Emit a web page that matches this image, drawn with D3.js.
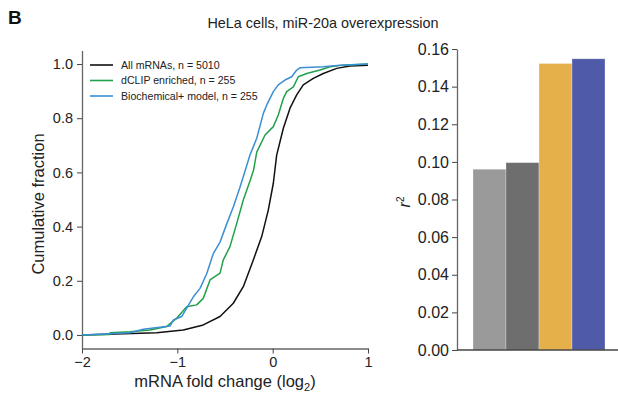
<!DOCTYPE html>
<html>
<head>
<meta charset="utf-8">
<script src="https://cdn.jsdelivr.net/npm/d3@7"></script>
<style>
  body { margin: 0; background: #fff; }
  svg { display: block; font-family: "Liberation Sans", Arial, Helvetica, sans-serif; }
</style>
</head>
<body>
<svg id="fig" width="618" height="397"></svg>
<script>
// cumulative distributions, [log2 fold change, cumulative fraction]
const allMrnas = [[-2,0],[-1.216,0.008],[-0.937,0.018],[-0.728,0.037],[-0.552,0.068],[-0.413,0.117],
  [-0.308,0.178],[-0.203,0.277],[-0.115,0.363],[-0.046,0.461],[0.007,0.56],[0.042,0.664],[0.112,0.763],
  [0.182,0.837],[0.252,0.886],[0.321,0.923],[0.426,0.947],[0.531,0.965],[0.672,0.984],[0.811,0.993],[1,0.996]];
const dclip = [[-2,0],[-1.706,0.002],[-1.706,0.008],[-1.496,0.012],[-1.287,0.018],[-1.112,0.031],[-1.007,0.062],
  [-0.902,0.104],[-0.797,0.111],[-0.728,0.135],[-0.657,0.203],[-0.552,0.228],[-0.518,0.277],[-0.448,0.326],
  [-0.377,0.412],[-0.308,0.498],[-0.238,0.568],[-0.2,0.609],[-0.167,0.675],[-0.08,0.738],[0.007,0.769],
  [0.059,0.812],[0.112,0.873],[0.147,0.898],[0.217,0.916],[0.269,0.953],[0.357,0.965],[0.497,0.978],
  [0.601,0.99],[0.741,0.996],[1,1]];
const biochem = [[-2,0],[-1.496,0.008],[-1.357,0.021],[-1.077,0.033],[-1.042,0.055],[-0.954,0.068],[-0.902,0.099],
  [-0.832,0.141],[-0.762,0.172],[-0.692,0.226],[-0.623,0.3],[-0.552,0.343],[-0.482,0.41],[-0.413,0.472],
  [-0.343,0.545],[-0.28,0.616],[-0.238,0.664],[-0.167,0.726],[-0.098,0.818],[-0.062,0.849],[0.007,0.898],
  [0.059,0.923],[0.129,0.941],[0.2,0.953],[0.252,0.978],[0.287,0.986],[0.531,0.99],[0.706,0.996],[1,1]];
const seriesNames = ["All mRNAs, n = 5010", "dCLIP enriched, n = 255", "Biochemical+ model, n = 255"];
const seriesColors = ["#111111", "#22a04b", "#3b8fd4"];
const xTicks = [-2, -1, 0, 1];
const yTicks = [0, 0.2, 0.4, 0.6, 0.8, 1.0];

// r^2 bars
const barCats = ["a", "b", "c", "d"];
const barVals = [0.0961, 0.0996, 0.1523, 0.1548];
const barColors = ["#9a9a9a", "#6d6e6d", "#e5b04a", "#4f5aa8"];
const rTicks = [0, 0.02, 0.04, 0.06, 0.08, 0.10, 0.12, 0.14, 0.16];

const font = '"Liberation Sans", Arial, Helvetica, sans-serif';
const svg = d3.select("#fig");

// panel letter + title
svg.append("text").attr("x", 8).attr("y", 24).text("B")
  .attr("font-size", 19).attr("font-weight", "bold").attr("fill", "#111");
svg.append("text").attr("x", 323).attr("y", 28).attr("text-anchor", "middle")
  .text("HeLa cells, miR-20a overexpression").attr("font-size", 14.4).attr("fill", "#222");

//---- left panel: CDF
const x = d3.scaleLinear().domain([-2, 1]).range([82, 368]);
const y = d3.scaleLinear().domain([-0.05, 1.05]).range([348.5, 50.5]);

const xAxis = svg.append("g").attr("transform", "translate(0,348.5)")
  .call(d3.axisBottom(x).tickValues(xTicks).tickSizeInner(5).tickSizeOuter(0).tickPadding(3).tickFormat(d3.format("d")));
const yAxis = svg.append("g").attr("transform", "translate(82,0)")
  .call(d3.axisLeft(y).tickValues(yTicks).tickSizeInner(5).tickSizeOuter(0).tickPadding(4).tickFormat(d3.format(".1f")));
[xAxis, yAxis].forEach(g => {
  g.select(".domain").attr("stroke", "#666").attr("stroke-width", 1.3);
  g.selectAll(".tick line").attr("stroke", "#444");
  g.selectAll("text").attr("font-family", font).attr("font-size", 14.5).attr("fill", "#222");
});

const line = d3.line().x(d => x(d[0])).y(d => y(d[1]));
[allMrnas, dclip, biochem].forEach((s, i) => {
  svg.append("path").datum(s).attr("d", line).attr("fill", "none")
    .attr("stroke", seriesColors[i]).attr("stroke-width", 1.5).attr("stroke-linejoin", "round");
});

svg.append("text").attr("transform", "translate(44,204) rotate(-90)").attr("text-anchor", "middle")
  .text("Cumulative fraction").attr("font-size", 16.5).attr("fill", "#222");
const xl = svg.append("text").attr("x", 225).attr("y", 387).attr("text-anchor", "middle")
  .attr("font-size", 16.5).attr("fill", "#222");
xl.append("tspan").text("mRNA fold change (log");
xl.append("tspan").text("2").attr("font-size", 11).attr("dy", 4);
xl.append("tspan").text(")").attr("dy", -4);

// legend
const leg = svg.append("g").attr("transform", "translate(90,65)");
seriesNames.forEach((n, i) => {
  const r = leg.append("g").attr("transform", `translate(0,${i * 15.5})`);
  r.append("line").attr("x1", 0).attr("x2", 23).attr("stroke", seriesColors[i]).attr("stroke-width", 1.6);
  r.append("text").attr("x", 31).attr("y", 3.8).text(n).attr("font-size", 10.6).attr("fill", "#222");
});

//---- right panel: bars
const xb = d3.scaleBand().domain(barCats).range([473, 605]).padding(0);
const yb = d3.scaleLinear().domain([0, 0.16]).range([350, 49]);

svg.append("g").selectAll("rect").data(barVals).join("rect")
  .attr("x", (d, i) => xb(barCats[i])).attr("width", xb.bandwidth())
  .attr("y", d => yb(d)).attr("height", d => yb(0) - yb(d))
  .attr("fill", (d, i) => barColors[i])
  .attr("stroke", "rgba(255,255,255,0.35)").attr("stroke-width", 0.8);

const rAxis = svg.append("g").attr("transform", "translate(457,0)")
  .call(d3.axisLeft(yb).tickValues(rTicks).tickSizeInner(5).tickSizeOuter(0).tickPadding(3).tickFormat(d3.format(".2f")));
rAxis.select(".domain").attr("stroke", "#666").attr("stroke-width", 1.3);
rAxis.selectAll(".tick line").attr("stroke", "#444");
rAxis.selectAll("text").attr("font-family", font).attr("font-size", 16).attr("fill", "#222");

svg.append("line").attr("x1", 457).attr("x2", 618).attr("y1", yb(0)).attr("y2", yb(0))
  .attr("stroke", "#444").attr("stroke-width", 1.3);

const rl = svg.append("text").attr("transform", "translate(410,202) rotate(-90)").attr("text-anchor", "middle")
  .attr("font-size", 16).attr("fill", "#222");
rl.append("tspan").text("r").attr("font-style", "italic");
rl.append("tspan").text("2").attr("font-size", 10).attr("dy", -6);
</script>
</body>
</html>
